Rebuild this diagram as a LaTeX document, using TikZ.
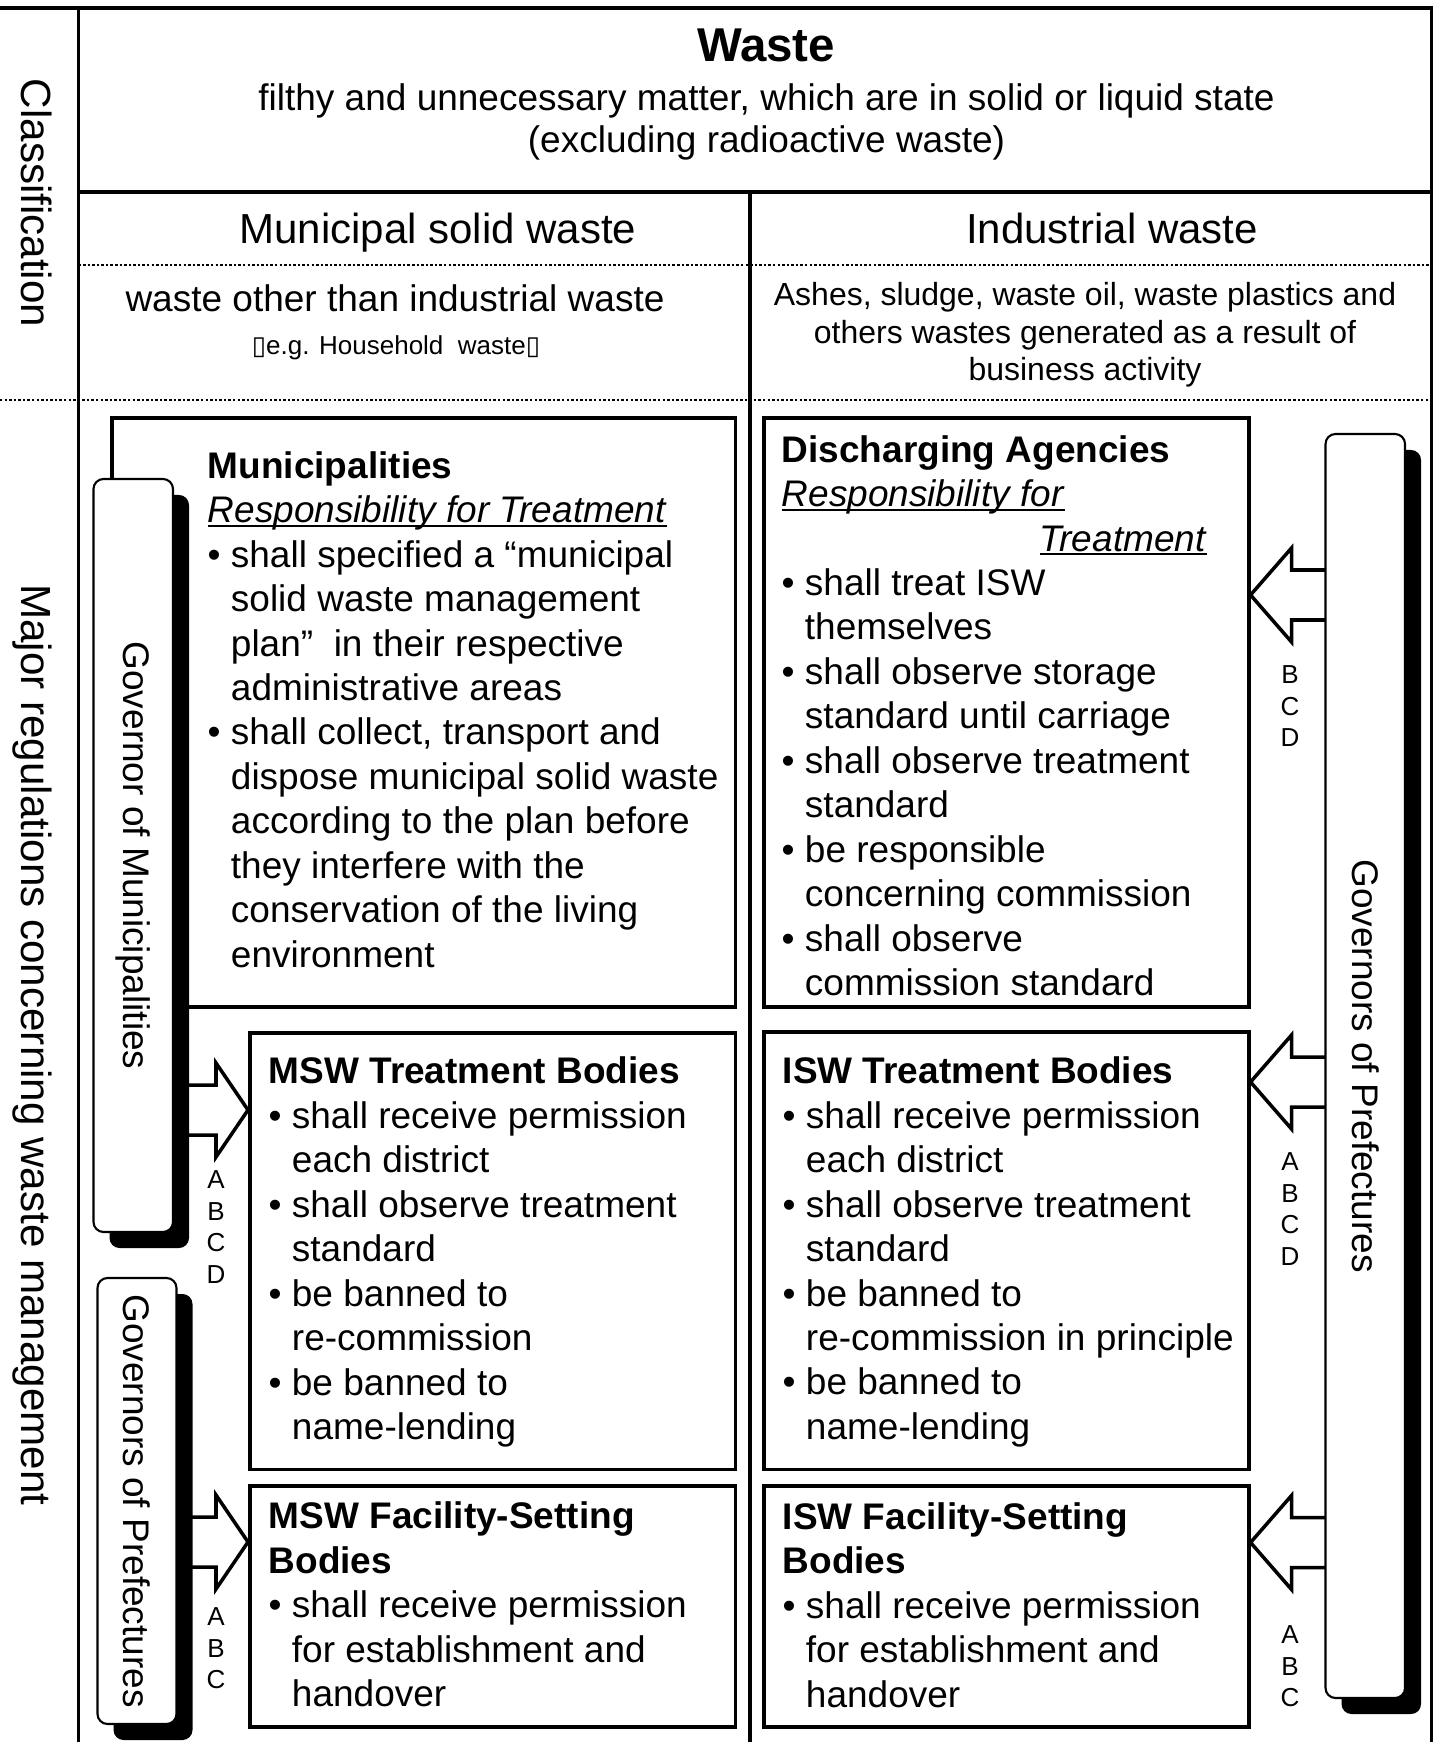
\documentclass[tikz,border=0pt]{standalone}
\usepackage{fontspec}
\setmainfont{Liberation Sans}
\newfontfamily\symf{DejaVu Sans}
\usepackage{graphicx}
\usetikzlibrary{calc,backgrounds,shadows}

\newcommand\fsMain{\fontsize{10.53pt}{12.66pt}\selectfont}
\newcommand\fsHead{\fontsize{11.95pt}{14pt}\selectfont}
\newcommand\fsTitle{\fontsize{13.5pt}{16pt}\selectfont\bfseries}
\newcommand\fsSub{\fontsize{10.53pt}{11.95pt}\selectfont}
\newcommand\fsAsh{\fontsize{9.1pt}{10.67pt}\selectfont}
\newcommand\fsEg{\fontsize{7.4pt}{9pt}\selectfont}
\newcommand\fsTag{\fontsize{7.4pt}{8.96pt}\selectfont}
\newcommand\fsSide{\fontsize{12pt}{14pt}\selectfont}
\newcommand\bul{\textbullet\ }
\newcommand\indnt{\phantom{\textbullet\ }}
\newcommand\undl[1]{\setbox0=\hbox{#1}\rlap{\rule[-0.12em]{\wd0}{0.065em}}\box0}
% block arrow: tail, tip, signed head length
\newcommand\blkarrow[3]{%
  \draw[blk] let \p1=(#1), \p2=(#2) in
    (\x1,\y2+0.25cm) -- ({\x2+#3},\y2+0.25cm) -- ({\x2+#3},\y2+0.47cm)
    -- (\x2,\y2) -- ({\x2+#3},\y2-0.47cm) -- ({\x2+#3},\y2-0.25cm)
    -- (\x1,\y2-0.25cm);}

\begin{document}
\begin{tikzpicture}[x=1cm,y=-1cm,
  every node/.style={inner sep=0pt},
  frame/.style={line width=0.9pt},
  dots/.style={line width=0.8pt,dash pattern=on 0.7pt off 0.6pt},
  body/.style={draw,line width=1pt,anchor=north west},
  txt/.style={anchor=north west,align=left,font=\fsMain},
  gov/.style={draw,fill=white,line width=0.6pt,rounded corners=0.1cm,font=\fsMain,
    drop shadow={shadow xshift=0.16cm,shadow yshift=-0.16cm,fill=black,opacity=1}},
  blk/.style={fill=white,line width=1pt},
  tag/.style={anchor=north,align=center,font=\fsTag}
]
\useasboundingbox (0,0) rectangle (14.35,17.42);

% table rules
\draw[frame] (0,0.08) -- (14.315,0.08) -- (14.315,17.42);
\draw[frame] (0.785,0.08) -- (0.785,17.42);
\draw[frame] (0.785,1.92) -- (14.315,1.92);
\draw[frame] (7.50,1.92) -- (7.50,17.42);
\draw[dots] (0.785,2.65) -- (14.315,2.65);
\draw[dots] (0,4.00) -- (14.315,4.00);

% classification
\node[anchor=base,font=\fsTitle] (waste) at (7.66,0.617) {Waste};
\node[anchor=north,align=center,font=\fsSub] (def) at (7.665,0.83)
  {filthy and unnecessary matter, which are in solid or liquid state\\(excluding radioactive waste)};
\node[anchor=base,font=\fsHead] (msw) at (4.38,2.433) {Municipal solid waste};
\node[anchor=base,font=\fsHead] (isw) at (11.12,2.433) {Industrial waste};
\node[anchor=base,font=\fsMain] (mswdef) at (3.95,3.117) {waste other than industrial waste};
\node[anchor=base,font=\fsEg] (mswex) at (3.96,3.55) {{\symf ▯}e.g. Household\ \ waste{\symf ▯}};
\node[anchor=north,align=center,font=\fsAsh] (iswdef) at (10.85,2.82)
  {Ashes, sludge, waste oil, waste plastics and\\others wastes generated as a result of\\business activity};

% side labels
\node[rotate=-90,anchor=base,font=\fsSide] (cls) at (0.22,2.03) {Classification};
\node[rotate=-90,anchor=base,font=\fsSide] (reg) at (0.22,10.45) {Major regulations concerning waste management};

% bodies
\node[body,minimum width=6.235cm,minimum height=5.89cm] (muni)  at (1.10,4.16)  {};
\node[body,minimum width=4.85cm,minimum height=5.885cm] (disch) at (7.62,4.165) {};
\node[body,minimum width=4.855cm,minimum height=4.365cm] (mswT) at (2.48,10.31) {};
\node[body,minimum width=4.85cm,minimum height=4.375cm] (iswT)  at (7.62,10.30) {};
\node[body,minimum width=4.855cm,minimum height=2.41cm] (mswF)  at (2.48,14.84) {};
\node[body,minimum width=4.85cm,minimum height=2.41cm] (iswF)   at (7.62,14.84) {};

\node[txt] (munitx) at (2.07,4.505) {\textbf{Municipalities}\\
  \undl{\textit{Responsibility for Treatment}}\\
  \bul shall specified a “municipal\\
  \indnt solid waste management\\
  \indnt plan”\ \ in their respective\\
  \indnt administrative areas\\
  \bul shall collect, transport and\\
  \indnt dispose municipal solid waste\\
  \indnt according to the plan before\\
  \indnt they interfere with the\\
  \indnt conservation of the living\\
  \indnt environment};
\node[txt] (dischtx) at (7.81,4.345) {\textbf{Discharging Agencies}\\
  \undl{\textit{Responsibility for}}\\
  \hspace*{2.58cm}\undl{\textit{Treatment}}\\
  \bul shall treat ISW\\
  \indnt themselves\\
  \bul shall observe storage\\
  \indnt standard until carriage\\
  \bul shall observe treatment\\
  \indnt standard\\
  \bul be responsible\\
  \indnt concerning commission\\
  \bul shall observe\\
  \indnt commission standard};
\node[txt] (mswTtx) at (2.68,10.563) {\textbf{MSW Treatment Bodies}\\
  \bul shall receive permission\\
  \indnt each district\\
  \bul shall observe treatment\\
  \indnt standard\\
  \bul be banned to\\
  \indnt re-commission\\
  \bul be banned to\\
  \indnt name-lending};
\node[txt] (iswTtx) at (7.82,10.56) {\textbf{ISW Treatment Bodies}\\
  \bul shall receive permission\\
  \indnt each district\\
  \bul shall observe treatment\\
  \indnt standard\\
  \bul be banned to\\
  \indnt re-commission in principle\\
  \bul be banned to\\
  \indnt name-lending};
\node[txt] (mswFtx) at (2.68,15.012) {\textbf{MSW Facility-Setting}\\
  \textbf{Bodies}\\
  \bul shall receive permission\\
  \indnt for establishment and\\
  \indnt handover};
\node[txt] (iswFtx) at (7.82,15.015) {\textbf{ISW Facility-Setting}\\
  \textbf{Bodies}\\
  \bul shall receive permission\\
  \indnt for establishment and\\
  \indnt handover};

% governors
\node[gov,minimum width=0.795cm,minimum height=7.53cm] (govM) at (1.3325,8.555)
  {\rotatebox{-90}{Governor of Municipalities}};
\node[gov,minimum width=0.79cm,minimum height=4.46cm] (govP) at (1.37,15.01)
  {\rotatebox{-90}{Governors of Prefectures}};
\node[gov,minimum width=0.795cm,minimum height=12.64cm] (govR) at (13.6525,10.66)
  {\rotatebox{-90}{Governors of Prefectures}};

% articles
\node[tag] (tagMT) at (2.16,11.70)  {A\\B\\C\\D};
\node[tag] (tagMF) at (2.16,16.07)  {A\\B\\C};
\node[tag] (tagD)  at (12.90,6.65)  {B\\C\\D};
\node[tag] (tagIT) at (12.90,11.52) {A\\B\\C\\D};
\node[tag] (tagIF) at (12.90,16.25) {A\\B\\C};

\coordinate (tipMT) at (mswT.west |- 0,11.10);
\coordinate (tipMF) at (mswF.west |- 0,15.42);
\coordinate (tipD)  at (disch.east |- 0,5.95);
\coordinate (tipIT) at (iswT.east |- 0,10.82);
\coordinate (tipIF) at (iswF.east |- 0,15.425);

\begin{scope}[on background layer]
\blkarrow{govM}{tipMT}{-0.32cm}
\blkarrow{govP}{tipMF}{-0.32cm}
\blkarrow{govR}{tipD}{0.41cm}
\blkarrow{govR}{tipIT}{0.41cm}
\blkarrow{govR}{tipIF}{0.41cm}
\end{scope}
\end{tikzpicture}
\end{document}
